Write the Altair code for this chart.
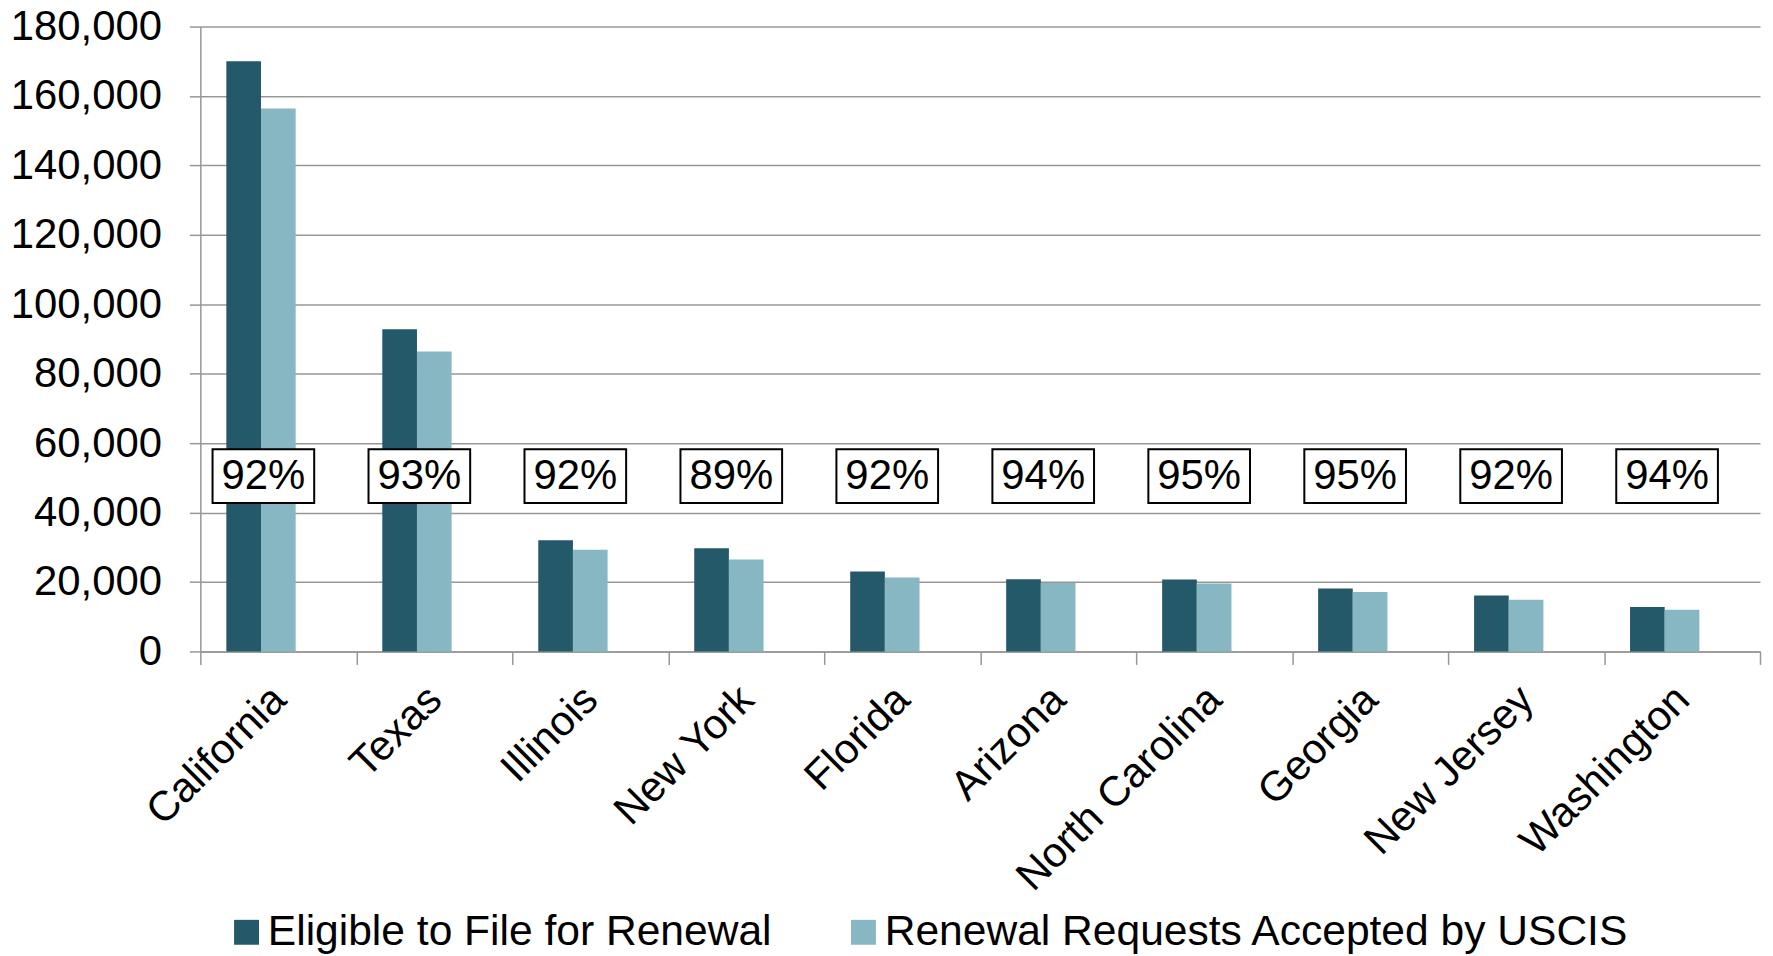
import altair as alt
import pandas as pd

states = ["California", "Texas", "Illinois", "New York", "Florida", "Arizona",
          "North Carolina", "Georgia", "New Jersey", "Washington"]
eligible = [170000, 92800, 32000, 29700, 23000, 20800, 20700, 18100, 16100, 12800]
accepted = [156400, 86400, 29300, 26500, 21300, 19700, 19600, 17100, 14900, 12000]
renewal_pct = ["92%", "93%", "92%", "89%", "92%", "94%", "95%", "95%", "92%", "94%"]
series_names = ["Eligible to File for Renewal", "Renewal Requests Accepted by USCIS"]
y_ticks = [0, 20000, 40000, 60000, 80000, 100000, 120000, 140000, 160000, 180000]

rows = []
for s, e, a in zip(states, eligible, accepted):
    rows.append({"state": s, "series": series_names[0], "value": e})
    rows.append({"state": s, "series": series_names[1], "value": a})
bars_df = pd.DataFrame(rows)
labels_df = pd.DataFrame({"state": states, "pct": renewal_pct})

FONT = "Liberation Sans"
GRAY = "#979797"
DARK = "#235968"
LIGHT = "#86B7C2"

x_enc = alt.X(
    "state:N", sort=states,
    scale=alt.Scale(paddingInner=0, paddingOuter=0),
    axis=alt.Axis(title=None, labelAngle=-45, labelFontSize=42, labelFont=FONT,
                  labelColor="black", labelLimit=1000, labelOffset=-14,
                  tickBand="extent", tickSize=13, tickColor=GRAY,
                  tickWidth=1.5, domainColor=GRAY, domainWidth=1.5, labelPadding=14,
                  grid=False),
)
y_enc = alt.Y(
    "value:Q",
    scale=alt.Scale(domain=[0, 180000], nice=False),
    axis=alt.Axis(title=None, values=y_ticks, format=",.0f", labelFontSize=42,
                  labelFont=FONT, labelColor="black", tickSize=11, tickColor=GRAY,
                  tickWidth=1.5, labelPadding=28, gridColor=GRAY, gridWidth=1.5,
                  domainColor=GRAY, domainWidth=1.5),
)

bars = alt.Chart(bars_df).mark_bar().encode(
    x=x_enc,
    xOffset=alt.XOffset("series:N", scale=alt.Scale(domain=series_names + ["(hidden)"],
                                                   paddingInner=0, paddingOuter=0.75)),
    y=y_enc,
    color=alt.Color(
        "series:N",
        scale=alt.Scale(domain=series_names, range=[DARK, LIGHT]),
        legend=alt.Legend(orient="none", legendX=25, legendY=887, direction="horizontal",
                          title=None, symbolType="square", symbolSize=625,
                          symbolStrokeWidth=0, labelFontSize=42.7, labelFont=FONT,
                          labelColor="black", labelLimit=1000, columnPadding=70,
                          labelOffset=0, padding=0),
    ),
)

box_path = "M-1,-0.53L1,-0.53L1,0.53L-1,0.53Z"
boxes = alt.Chart(labels_df).mark_point(
    shape=box_path, size=10404, filled=True, fill="white", stroke="black",
    strokeWidth=2, opacity=1, xOffset=-15,
).encode(
    x=alt.X("state:N", sort=states),
    y=alt.datum(50500),
)

texts = alt.Chart(labels_df).mark_text(
    font=FONT, fontSize=42, color="black", xOffset=-15, baseline="middle", align="center",
).encode(
    x=alt.X("state:N", sort=states),
    y=alt.datum(50500),
    text="pct:N",
)

chart = alt.layer(bars, boxes, texts).properties(
    width=1565, height=627,
    padding={"left": 193, "top": 17, "right": 5, "bottom": 310},
    autosize=alt.AutoSizeParams(type="none"),
).configure_view(stroke=None)

chart.save("out.html", embed_options={"renderer": "svg", "actions": False})
